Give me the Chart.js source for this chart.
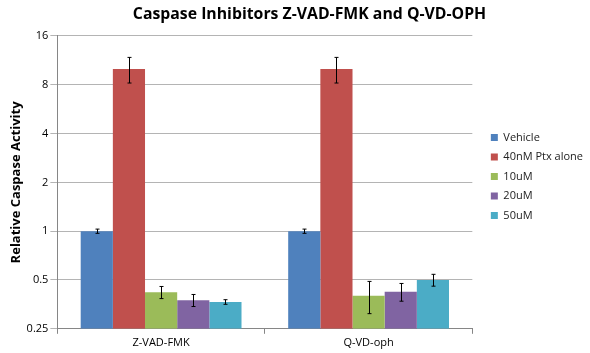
<!DOCTYPE html>
<html>
<head>
<meta charset="utf-8">
<script src="https://cdn.jsdelivr.net/npm/chart.js@4/dist/chart.umd.min.js"></script>
<style>
  body { margin: 0; background: #fff; }
  #wrap { width: 590px; height: 353px; }
</style>
</head>
<body>
<div id="wrap"><canvas id="caspaseChart" width="590" height="353"></canvas></div>
<script>
// dados
const categories = ['Z-VAD-FMK', 'Q-VD-oph'];
const seriesNames = ['Vehicle', '40nM Ptx alone', '10uM', '20uM', '50uM'];
const vehicle = [1.0, 1.0];
const ptxAlone = [10.0, 10.0];
const dose10 = [0.42, 0.40];
const dose20 = [0.375, 0.423];
const dose50 = [0.366, 0.50];
const vehicleErr = [0.03, 0.03];
const ptxAloneErr = [1.8, 1.8];
const dose10Err = [0.036, 0.09];
const dose20Err = [0.032, 0.053];
const dose50Err = [0.012, 0.042];
const yTicks = [0.25, 0.5, 1, 2, 4, 8, 16];

const colors = ['#4F81BD', '#C0504D', '#9BBB59', '#8064A2', '#4BACC6'];
const values = [vehicle, ptxAlone, dose10, dose20, dose50];
const errors = [vehicleErr, ptxAloneErr, dose10Err, dose20Err, dose50Err];

const FONT = '"Open Sans", "Liberation Sans", sans-serif';

// barras de erro desenhadas com a escala do gráfico
const errorBars = {
    id: 'errorBars',
    afterDatasetsDraw(chart) {
        const ctx = chart.ctx;
        const yScale = chart.scales.y;
        ctx.save();
        ctx.strokeStyle = '#000';
        ctx.lineWidth = 1;
        chart.data.datasets.forEach((ds, i) => {
            const meta = chart.getDatasetMeta(i);
            meta.data.forEach((bar, j) => {
                const v = ds.data[j];
                const e = ds.errors[j];
                const x = Math.round(bar.x) + 0.5;
                const yTop = yScale.getPixelForValue(v + e);
                const yBot = yScale.getPixelForValue(v - e);
                ctx.beginPath();
                ctx.moveTo(x, yTop);
                ctx.lineTo(x, yBot);
                ctx.moveTo(x - 2, yTop);
                ctx.lineTo(x + 2, yTop);
                ctx.moveTo(x - 2, yBot);
                ctx.lineTo(x + 2, yBot);
                ctx.stroke();
            });
        });
        ctx.restore();
    }
};

// empurra a legenda e o título um pouco para a direita, como no original
const nudgeBlocks = {
    id: 'nudgeBlocks',
    afterLayout(chart) {
        if (chart.legend) {
            chart.legend.left += 10;
            chart.legend.right += 10;
        }
        if (chart.titleBlock) {
            chart.titleBlock.left += 14;
            chart.titleBlock.right += 14;
        }
    }
};

const datasets = seriesNames.map((name, i) => ({
    label: name,
    data: values[i],
    errors: errors[i],
    backgroundColor: colors[i],
    borderWidth: 0,
    barPercentage: 1.0,
    categoryPercentage: 0.775
}));

new Chart(document.getElementById('caspaseChart').getContext('2d'), {
    type: 'bar',
    data: { labels: categories, datasets: datasets },
    options: {
        responsive: false,
        animation: false,
        layout: { padding: { left: 8, right: 7, top: 2, bottom: 2 } },
        plugins: {
            title: {
                display: true,
                text: 'Caspase Inhibitors Z-VAD-FMK and Q-VD-OPH',
                color: '#000',
                font: { family: FONT, size: 15.8, weight: 'bold' },
                padding: { top: 3, bottom: 12 }
            },
            legend: {
                position: 'right',
                labels: {
                    boxWidth: 7,
                    boxHeight: 7,
                    padding: 8.5,
                    color: '#222',
                    font: { family: FONT, size: 11 }
                }
            },
            tooltip: { enabled: false }
        },
        scales: {
            x: {
                grid: { display: true, drawOnChartArea: false, tickLength: 5, color: '#868686' },
                border: { color: '#868686' },
                ticks: { color: '#000', font: { family: FONT, size: 11 }, padding: 2 }
            },
            y: {
                type: 'logarithmic',
                min: 0.25,
                max: 16,
                afterBuildTicks(scale) {
                    scale.ticks = yTicks.map(v => ({ value: v }));
                },
                ticks: {
                    color: '#000',
                    font: { family: FONT, size: 11 },
                    padding: 2,
                    callback: v => String(v)
                },
                grid: { color: '#B4B4B4', tickLength: 7 },
                border: { color: '#868686' },
                title: {
                    display: true,
                    text: 'Relative Caspase Activity',
                    color: '#000',
                    font: { family: FONT, size: 13, weight: 'bold' },
                    padding: { top: 0, bottom: 1 }
                }
            }
        }
    },
    plugins: [errorBars, nudgeBlocks]
});
</script>
</body>
</html>
